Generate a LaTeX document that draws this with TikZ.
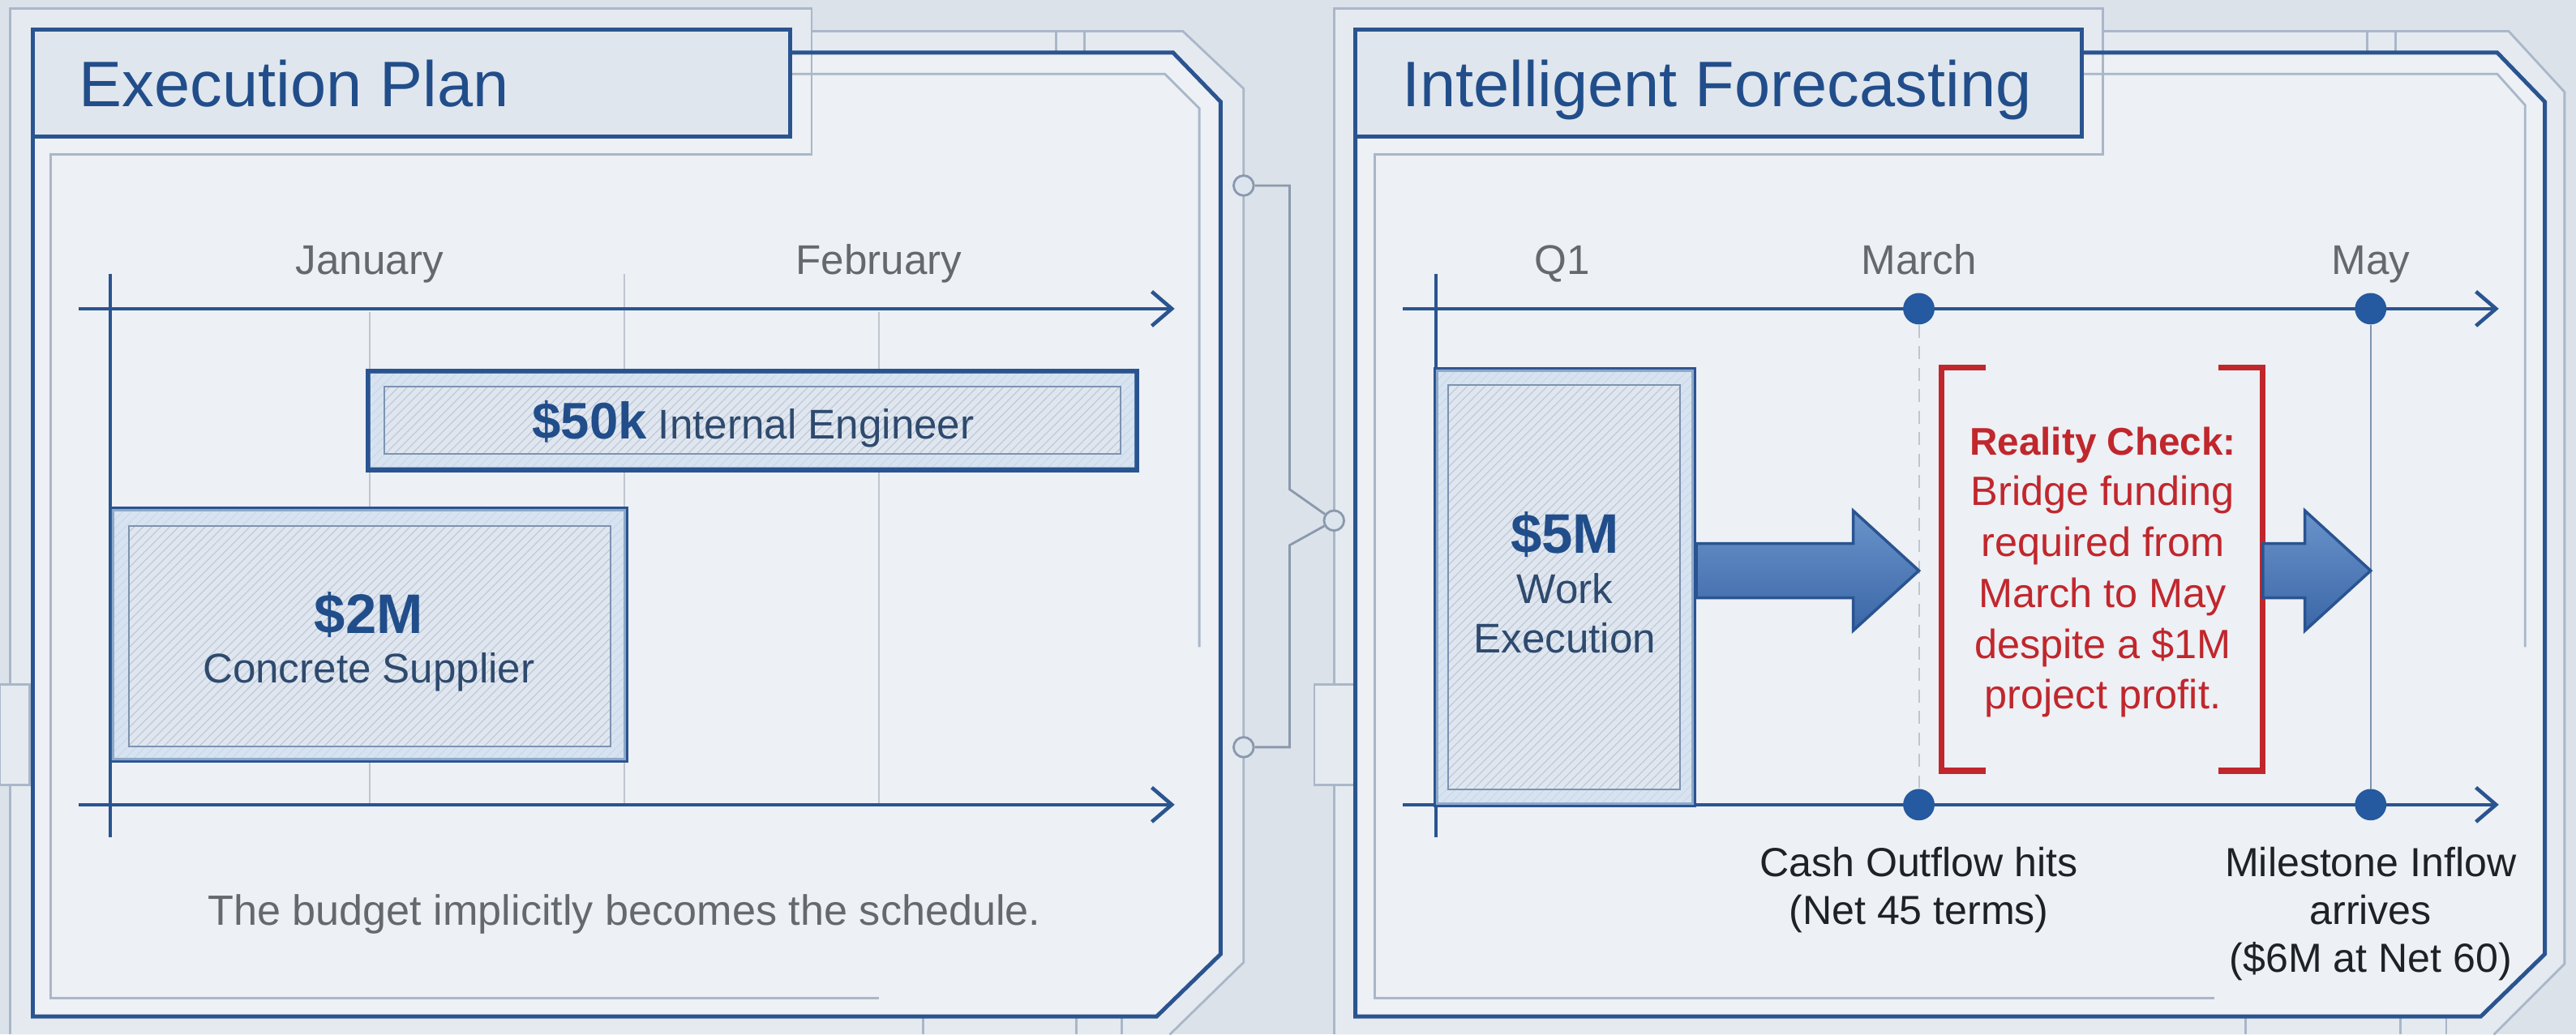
\documentclass[tikz,border=0pt]{standalone}
\usepackage{fontspec}
\setmainfont{Liberation Sans}
\usetikzlibrary{arrows.meta,patterns.meta,fit,calc}

\definecolor{pagebg}{HTML}{DCE2EA}
\definecolor{bandbg}{HTML}{E5EAF0}
\definecolor{panelbg}{HTML}{EDF0F4}
\definecolor{inkblue}{HTML}{2A5490}
\definecolor{headblue}{HTML}{214E8A}
\definecolor{frameline}{HTML}{A9B7C9}
\definecolor{gridgrey}{HTML}{BFC6CF}
\definecolor{labelgrey}{HTML}{65696E}
\definecolor{bodyink}{HTML}{2E4A6E}
\definecolor{noteink}{HTML}{1E2126}
\definecolor{alertred}{HTML}{C0272D}
\definecolor{titlefill}{HTML}{E0E6EE}
\definecolor{barfill}{HTML}{DFE6EF}
\definecolor{bandblue}{HTML}{D3E2F3}
\definecolor{hatchgrey}{HTML}{BCC6D3}
\definecolor{barline}{HTML}{7D93B1}
\definecolor{dotblue}{HTML}{2559A0}
\definecolor{arrowtop}{HTML}{6A93CA}
\definecolor{arrowbot}{HTML}{3A67A7}
\definecolor{viagrey}{HTML}{8A99AD}
\definecolor{viafill}{HTML}{DCE4EE}

\newcommand{\amount}[2]{{\fontsize{#1}{17.4}\selectfont\bfseries\color{headblue}#2}}

% fat flow arrow: #1 = start of the shaft, #2 = tip
\newcommand{\fatarrow}[2]{%
  \draw[flow] ($(#1)+(0,-16.5)$) -- ($(#2)+(-40,-16.5)$) -- ($(#2)+(-40,-36.5)$)
    -- (#2) -- ($(#2)+(-40,36.5)$) -- ($(#2)+(-40,16.5)$) -- ($(#1)+(0,16.5)$) -- cycle;}

\tikzset{
  lightframe/.style={draw=frameline, line width=0.8pt},
  darkframe/.style={draw=inkblue, line width=1.4pt, line join=miter},
  titlebox/.style={draw=inkblue, line width=1.5pt, fill=titlefill, inner sep=0pt},
  titletext/.style={text=headblue, font=\fontsize{22.5}{27}\selectfont, inner sep=0pt, anchor=base west},
  axis/.style={draw=inkblue, line width=1.3pt, -{Straight Barb[length=7pt,width=12pt]}},
  tick/.style={draw=inkblue, line width=1pt},
  gridline/.style={draw=gridgrey, line width=0.6pt},
  month/.style={text=labelgrey, font=\fontsize{14.5}{17}\selectfont, inner sep=0pt, anchor=base},
  bar/.style={draw=inkblue, line width=1.8pt, inner sep=0pt, preaction={fill=barfill},
    pattern={Lines[angle=45,distance=2.2pt,line width=0.3pt]}, pattern color=hatchgrey},
  bartext/.style={inner sep=0pt, text=bodyink, font=\fontsize{14.5}{17.4}\selectfont},
  stack/.style={align=center, anchor=north},
  barinner/.style={draw=barline, line width=0.6pt},
  barband/.style={fill=bandblue, fill opacity=0.6, even odd rule},
  milestone/.style={circle, fill=dotblue, inner sep=0pt, minimum size=11pt},
  via/.style={circle, draw=viagrey, fill=viafill, line width=0.8pt, inner sep=0pt, minimum size=7pt},
  wire/.style={draw=viagrey, line width=0.8pt},
  flow/.style={draw=inkblue, line width=1pt, top color=arrowtop, bottom color=arrowbot, line join=miter},
  bracket/.style={draw=alertred, line width=2pt, line join=miter},
  alerttext/.style={stack, inner sep=0pt, text=alertred, font=\fontsize{14.3}{17.8}\selectfont},
  cashnote/.style={stack, inner sep=0pt, text=noteink, font=\fontsize{14.2}{16.7}\selectfont}
}

\begin{document}
\begin{tikzpicture}[x=0.5744pt, y=-0.5744pt]

\fill[pagebg] (0,0) rectangle (1568,630);
\useasboundingbox (0,0) rectangle (1568,630);

% frame bands and panel faces
\fill[bandbg] (6,5) -- (494,5) -- (494,19) -- (720,19) -- (757,54) -- (757,586) -- (712,630) -- (6,630) -- cycle;
\fill[bandbg] (812,5) -- (1280,5) -- (1280,19) -- (1527,19) -- (1561,56) -- (1561,587) -- (1518,630) -- (812,630) -- cycle;
\fill[panelbg] (20,32) -- (714,32) -- (743,62) -- (743,581) -- (704,619) -- (20,619) -- cycle;
\fill[panelbg] (825,32) -- (1520,32) -- (1549,62) -- (1549,581) -- (1510,619) -- (825,619) -- cycle;

% left frame
\draw[lightframe] (6,630) -- (6,5) -- (494,5) -- (494,94) -- (31,94) -- (31,608) -- (535,608);
\draw[lightframe] (494,19) -- (720,19) -- (757,54) -- (757,586) -- (712,630);
\draw[lightframe] (481,45) -- (709,45) -- (730,66) -- (730,394);
\draw[lightframe] (643,19) -- (643,32) (660,19) -- (660,32);
\draw[lightframe] (562,619) -- (562,630) (655,619) -- (655,630) (683,619) -- (683,630);
\draw[lightframe, fill=bandbg] (0,417) rectangle (18,478);
\draw[darkframe] (481,32) -- (714,32) -- (743,62) -- (743,581) -- (704,619) -- (20,619) -- (20,83);

% right frame
\draw[lightframe] (812,630) -- (812,5) -- (1280,5) -- (1280,94) -- (837,94) -- (837,608) -- (1348,608);
\draw[lightframe] (1280,19) -- (1527,19) -- (1561,56) -- (1561,587) -- (1518,630);
\draw[lightframe] (1267,45) -- (1520,45) -- (1537,64) -- (1537,394);
\draw[lightframe] (1441,19) -- (1441,32) (1458,19) -- (1458,32);
\draw[lightframe] (1367,619) -- (1367,630) (1461,619) -- (1461,630) (1489,619) -- (1489,630);
\draw[lightframe, fill=bandbg] (800,417) rectangle (825,478);
\draw[darkframe] (1267,32) -- (1520,32) -- (1549,62) -- (1549,581) -- (1510,619) -- (825,619) -- (825,83);

% titles
\node[titlebox, fit={(20,18) (481,83)}] (plantab) {};
\node[titletext] (plantitle) at (48,65) {Execution Plan};
\node[titlebox, fit={(825,18) (1267,83)}] (forecasttab) {};
\node[titletext] (forecasttitle) at (853,65) {Intelligent Forecasting};

% link between the panels
\node[via] (viaA) at (757,113) {};
\node[via] (viaB) at (812,317) {};
\node[via] (viaC) at (757,455) {};
\draw[wire] (viaA) -- (785,113) -- (785,298) -- (viaB);
\draw[wire] (viaB) -- (785,332) -- (785,455) -- (viaC);

%%% execution plan
\coordinate (planorigin) at (67,167);
\coordinate (planfoot) at (67,510);
\coordinate (plantopL) at (48,188);
\coordinate (plantopR) at (715,188);
\coordinate (planbotL) at (48,490);
\coordinate (planbotR) at (715,490);

\draw[gridline] (225,190) -- (225,490) (380,167) -- (380,490) (535,190) -- (535,490);
\draw[tick] (planorigin) -- (planfoot);
\draw[axis] (plantopL) -- (plantopR);
\draw[axis] (planbotL) -- (planbotR);

\node[month] (jan) at (225,167) {January};
\node[month] (feb) at (535,167) {February};

\node[bar, fit={(224,226) (692,286)}] (engineer) {};
\fill[barband] ([shift={(1.6,1.6)}]engineer.north west) rectangle ([shift={(-1.6,-1.6)}]engineer.south east)
  ([shift={(10,9.5)}]engineer.north west) rectangle ([shift={(-10,-10)}]engineer.south east);
\draw[barinner] ([shift={(10,9.5)}]engineer.north west) rectangle ([shift={(-10,-10)}]engineer.south east);
\node[bartext, anchor=base] (engineerlabel) at (458.5,267.4) {\amount{18}{\$50k} Internal Engineer};

\node[bar, fit={(68,310) (381,463)}] (concrete) {};
\fill[barband] ([shift={(1.6,1.6)}]concrete.north west) rectangle ([shift={(-1.6,-1.6)}]concrete.south east)
  ([shift={(12,12)}]concrete.north west) rectangle ([shift={(-11,-10)}]concrete.south east);
\draw[barinner] ([shift={(12,12)}]concrete.north west) rectangle ([shift={(-11,-10)}]concrete.south east);
\node[bartext, stack] (concretelabel) at (224.5,360) {\amount{19.5}{\$2M}\\Concrete Supplier};

\node[month, font=\fontsize{14.8}{17}\selectfont] (budgetnote) at (380,563.6) {The budget implicitly becomes the schedule.};

%%% intelligent forecasting
\coordinate (fcorigin) at (874,167);
\coordinate (fcfoot) at (874,510);
\coordinate (fctopL) at (854,188);
\coordinate (fctopR) at (1521,188);
\coordinate (fcbotL) at (854,490);
\coordinate (fcbotR) at (1521,490);

\draw[tick] (fcorigin) -- (fcfoot);
\draw[axis] (fctopL) -- (fctopR);
\draw[axis] (fcbotL) -- (fcbotR);

\node[milestone] (marchup) at (1168,188) {};
\node[milestone] (marchdown) at (1168,490) {};
\node[milestone] (mayup) at (1443,188) {};
\node[milestone] (maydown) at (1443,490) {};
\draw[gridline, dash pattern=on 4.5pt off 3pt] (marchup) -- (marchdown);
\draw[gridline, draw=barline] (mayup) -- (maydown);

\node[month] (q1) at (951,167) {Q1};
\node[month] (march) at (1168,167) {March};
\node[month] (may) at (1443,167) {May};

\node[bar, fit={(874,225) (1031,490)}] (work) {};
\fill[barband] ([shift={(1.6,1.6)}]work.north west) rectangle ([shift={(-1.6,-1.6)}]work.south east)
  ([shift={(9,11)}]work.north west) rectangle ([shift={(-10,-11)}]work.south east);
\draw[barinner] ([shift={(9,11)}]work.north west) rectangle ([shift={(-10,-11)}]work.south east);
\node[bartext, stack] (worklabel) at (952.5,311.5) {\amount{19.5}{\$5M}\\Work\\Execution};

\node[fit={(1182,224) (1377,469)}, inner sep=0pt] (check) {};
\draw[bracket] ([shift={(27,0)}]check.north west) -- (check.north west) -- (check.south west) -- ++(27,0);
\draw[bracket] ([shift={(-27,0)}]check.north east) -- (check.north east) -- (check.south east) -- ++(-27,0);
\node[alerttext] (checklabel) at (1280,259.5)
  {{\fontsize{13.5}{17.8}\selectfont\bfseries Reality Check:}\\Bridge funding\\required from\\March to May\\despite a \$1M\\project profit.};

\coordinate (flowrow) at (0,347.5);
\coordinate (outflowstart) at (work.east |- flowrow);
\coordinate (outflowtip) at (marchup |- flowrow);
\coordinate (bridgestart) at (check.east |- flowrow);
\coordinate (bridgetip) at (mayup |- flowrow);
\fatarrow{outflowstart}{outflowtip}
\fatarrow{bridgestart}{bridgetip}

\node[cashnote] (outflow) at (1168,515.5) {Cash Outflow hits\\(Net 45 terms)};
\node[cashnote] (inflow) at (1443,515.5) {Milestone Inflow\\arrives\\(\$6M at Net 60)};

\end{tikzpicture}
\end{document}
